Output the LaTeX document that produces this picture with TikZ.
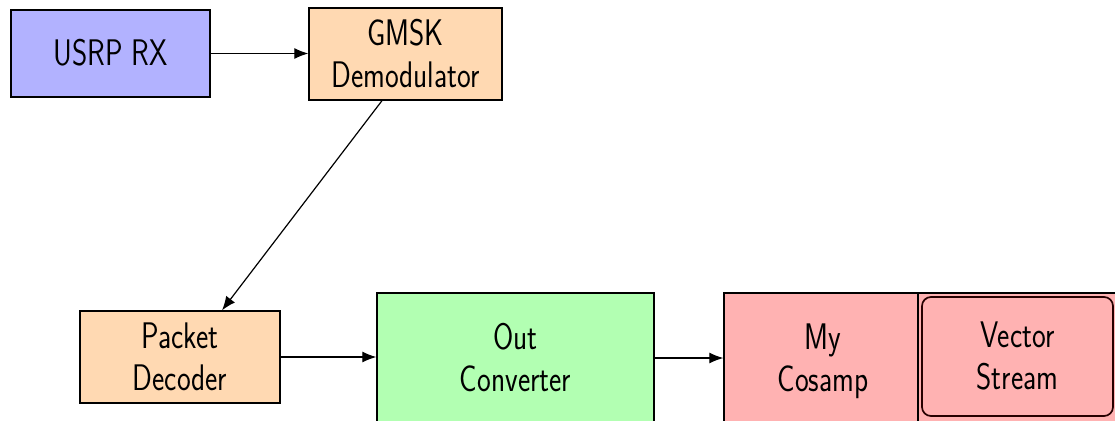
\documentclass[tikz,border=0pt]{standalone}
\usepackage{graphicx}
\usetikzlibrary{arrows.meta}
% narrow, tall sans-serif labels, one line per \\, set a little below centre
\newcommand\blocktext[1]{\raisebox{-4pt}[\height][\depth]{\scalebox{0.79}[1]{\begin{tabular}{@{}c@{}}#1\end{tabular}}}}
\definecolor{srcfill}{RGB}{178,178,255}
\definecolor{procfill}{RGB}{255,217,178}
\definecolor{convfill}{RGB}{178,255,178}
\definecolor{sinkfill}{RGB}{255,178,178}
\begin{document}
\begin{tikzpicture}[x=1pt,y=-1pt,
  block/.style={draw=black, line width=1.3pt, inner sep=0pt,
    font=\sffamily\fontsize{37}{42}\selectfont, align=center},
  flow/.style={draw=black, line width=1.2pt, -{Latex[length=14pt,width=11pt]}}]
\clip (0,0) rectangle (1115,420);
\fill[white] (0,0) rectangle (1115,420);

% top row
\node[block, fill=srcfill, minimum width=199pt, minimum height=87pt]
  (usrp) at (110.5,53.5) {\blocktext{USRP RX}};
\node[block, fill=procfill, minimum width=193pt, minimum height=92pt]
  (gmsk) at (405.5,54) {\blocktext{GMSK\\Demodulator}};

% bottom row
\node[block, fill=procfill, minimum width=200pt, minimum height=92pt]
  (pkt) at (180,357) {\blocktext{Packet\\Decoder}};
\node[block, fill=convfill, minimum width=277pt, minimum height=130pt]
  (out) at (515.5,358) {\blocktext{Out\\Converter}};

% hierarchical sink block with its nested stream block
\node[block, fill=sinkfill, minimum width=394pt, minimum height=130pt]
  (my) at (921,358) {};
\draw[line width=1.3pt] (918,293) -- (918,423);
\node[block, draw=none, fill=none] (mylbl) at (823,358) {\blocktext{My\\Cosamp}};
\node[block, fill=sinkfill, draw=black!85!red, line width=1.7pt,
  rounded corners=9pt, minimum width=191pt, minimum height=119pt]
  (vec) at (1017.5,356.5) {\blocktext{Vector\\Stream}};

% connectors
\draw[flow] (usrp.east) -- (usrp.east -| gmsk.west);
\draw[flow] ([xshift=-23.5pt]gmsk.south) -- ([xshift=42pt]pkt.north);
\draw[flow] (pkt.east) -- (pkt.east -| out.west);
\draw[flow] (out.east) -- (out.east -| my.west);
\end{tikzpicture}
\end{document}
